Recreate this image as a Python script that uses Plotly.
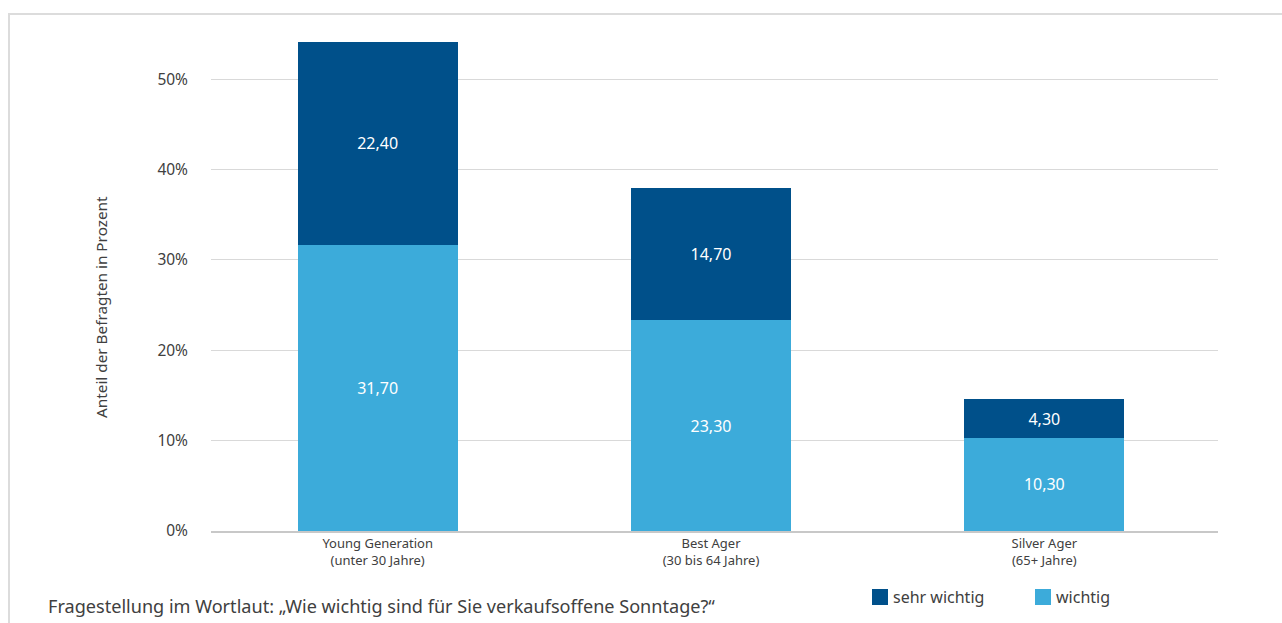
import plotly.graph_objects as go

categories = ["Young Generation<br>(unter 30 Jahre)", "Best Ager<br>(30 bis 64 Jahre)", "Silver Ager<br>(65+ Jahre)"]
wichtig = [31.7, 23.3, 10.3]
sehr_wichtig = [22.4, 14.7, 4.3]
tick_vals = [0, 10, 20, 30, 40, 50]
tick_text = ["0%", "10%", "20%", "30%", "40%", "50%"]

DARK = "#00508A"
LIGHT = "#3CABDA"
TEXT = "#404040"
FONT = "Noto Sans"

W, H = 1282, 623
L, R, T, B = 211, 64, 34, 92
plot_w = W - L - R
plot_h = H - T - B


def px_x(px):
    return (px - L) / plot_w


def px_y(py):
    return (H - B - py) / plot_h


def de(v):
    return f"{v:.2f}".replace(".", ",")


fig = go.Figure()
fig.add_trace(go.Bar(
    x=categories, y=wichtig, name="wichtig", marker_color=LIGHT, marker_line_width=0,
    text=[de(v) for v in wichtig], textposition="inside", insidetextanchor="middle",
    textfont=dict(color="white", size=16, family=FONT), showlegend=False,
))
fig.add_trace(go.Bar(
    x=categories, y=sehr_wichtig, name="sehr wichtig", marker_color=DARK, marker_line_width=0,
    text=[de(v) for v in sehr_wichtig], textposition="inside", insidetextanchor="middle",
    textfont=dict(color="white", size=16, family=FONT), showlegend=False,
))

fig.update_layout(
    width=W, height=H, barmode="stack", bargap=0.52,
    margin=dict(l=L, r=R, t=T, b=B),
    paper_bgcolor="white", plot_bgcolor="white",
    font=dict(family=FONT, color=TEXT),
    uniformtext=dict(mode=False),
)
fig.update_yaxes(
    range=[0, 55], tickvals=tick_vals, ticktext=tick_text,
    showgrid=True, gridcolor="#d9d9d9", gridwidth=1,
    zeroline=False, showline=False,
    tickfont=dict(size=15.5, color=TEXT), ticklabelstandoff=22,
)
fig.update_xaxes(
    range=[-0.5, 2.521],
    showline=True, linecolor="#c8c8c8", linewidth=1.5,
    tickfont=dict(size=13, color=TEXT), ticks="",
)

# outer frame
fig.add_shape(type="rect", xref="paper", yref="paper",
              x0=px_x(9), x1=px_x(1300), y0=px_y(640), y1=px_y(14),
              line=dict(color="#dcdcdc", width=2), fillcolor="rgba(0,0,0,0)", layer="below")

# axis title
fig.add_annotation(text="Anteil der Befragten in Prozent", xref="paper", yref="paper",
                   x=px_x(101), y=px_y(307), textangle=-90, showarrow=False,
                   font=dict(size=15.3, color=TEXT), xanchor="center", yanchor="middle")

# question text
fig.add_annotation(text="Fragestellung im Wortlaut: „Wie wichtig sind für Sie verkaufsoffene Sonntage?“",
                   xref="paper", yref="paper", x=px_x(46), y=px_y(606),
                   showarrow=False, xanchor="left", yanchor="middle",
                   font=dict(size=18.1, color=TEXT))

# legend
for sx, name, col in [(872, "sehr wichtig", DARK), (1035, "wichtig", LIGHT)]:
    fig.add_shape(type="rect", xref="paper", yref="paper",
                  x0=px_x(sx), x1=px_x(sx + 16), y0=px_y(605), y1=px_y(589),
                  fillcolor=col, line=dict(width=0))
    fig.add_annotation(text=name, xref="paper", yref="paper", x=px_x(sx + 19), y=px_y(597),
                       showarrow=False, xanchor="left", yanchor="middle",
                       font=dict(size=16, color=TEXT))

fig.write_html("out.html")
